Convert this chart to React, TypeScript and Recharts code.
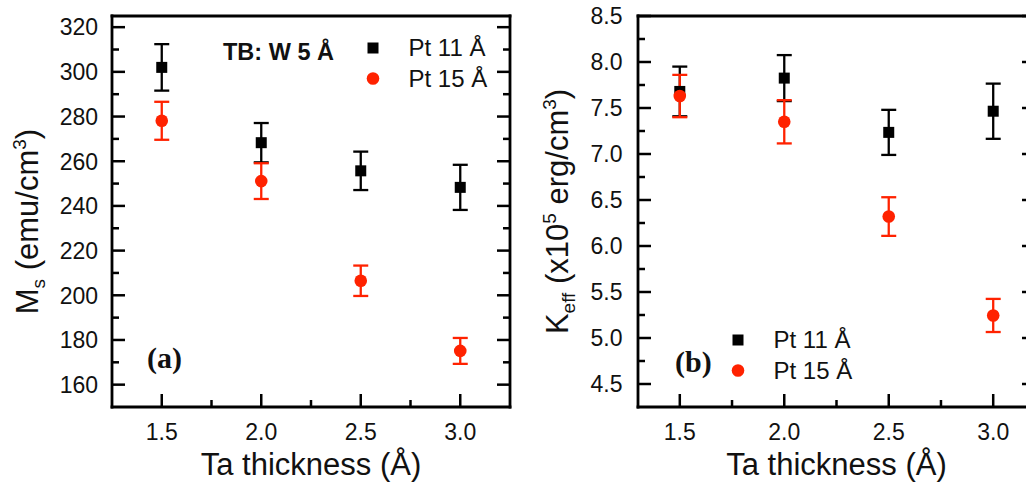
import React from 'react'
import { ScatterChart, Scatter, XAxis, YAxis, ErrorBar, Legend } from 'recharts'

// values
const taThickness = [1.5, 2.0, 2.5, 3.0]
const msPt11 = [302, 268.3, 255.7, 248.3]
const msPt11Err = [10.4, 8.8, 8.6, 10.1]
const msPt15 = [278.1, 251.1, 206.5, 175.1]
const msPt15Err = [8.5, 8, 6.8, 5.8]
const keffPt11 = [7.68, 7.825, 7.235, 7.465]
const keffPt11Err = [0.27, 0.25, 0.245, 0.3]
const keffPt15 = [7.63, 7.35, 6.32, 5.245]
const keffPt15Err = [0.23, 0.235, 0.21, 0.18]
const seriesNames = ['Pt 11 Å', 'Pt 15 Å']

const xMajorTicks = [1.5, 2.0, 2.5, 3.0]
const xMinorTicks = [1.75, 2.25, 2.75]
const msMajorTicks = [160, 180, 200, 220, 240, 260, 280, 300, 320]
const msMinorTicks = [170, 190, 210, 230, 250, 270, 290, 310]
const keffMajorTicks = [4.5, 5.0, 5.5, 6.0, 6.5, 7.0, 7.5, 8.0, 8.5]
const keffMinorTicks = [4.75, 5.25, 5.75, 6.25, 6.75, 7.25, 7.75, 8.25]

const BLACK = '#000'
const RED = '#ff2200'
const SANS = '"Liberation Sans", Arial, sans-serif'
const SERIF = '"Liberation Serif", "Times New Roman", serif'
const MAJOR_LEN = 13
const MINOR_LEN = 7

const toRows = (ys: number[], errs: number[]) =>
  taThickness.map((x, i) => ({ x, y: ys[i], err: errs[i] }))

type Side = 'bottom' | 'top' | 'left' | 'right'

function makeTick(side: Side, majors: number[], fmt: (v: number) => string, gap: number) {
  return function Tick(props: any) {
    const { x, y, payload } = props
    const v = Number(payload.value)
    const major = majors.some((m) => Math.abs(m - v) < 1e-6)
    const len = major ? MAJOR_LEN : MINOR_LEN
    let line = null
    if (side === 'bottom') line = <line x1={x} x2={x} y1={y} y2={y - len} />
    if (side === 'top') line = <line x1={x} x2={x} y1={y} y2={y + len} />
    if (side === 'left') line = <line x1={x} x2={x + len} y1={y} y2={y} />
    if (side === 'right') line = <line x1={x} x2={x - len} y1={y} y2={y} />
    let label = null
    if (major && side === 'bottom') {
      label = (
        <text x={x} y={y + gap} textAnchor="middle" fill="#111" stroke="none" fontSize={23} fontFamily={SANS}>
          {fmt(v)}
        </text>
      )
    }
    if (major && side === 'left') {
      label = (
        <text x={x - gap} y={y} dy="0.36em" textAnchor="end" fill="#111" stroke="none" fontSize={23} fontFamily={SANS}>
          {fmt(v)}
        </text>
      )
    }
    return (
      <g stroke={BLACK} strokeWidth={2.5}>
        {line}
        {label}
      </g>
    )
  }
}

const SquareDot = (p: any) => <rect x={p.cx - 5.5} y={p.cy - 5.5} width={11} height={11} fill={BLACK} />
const RoundDot = (p: any) => <circle cx={p.cx} cy={p.cy} r={6.3} fill={RED} />

function LegendBox(props: any) {
  const items = props.payload || []
  return (
    <svg width={150} height={64} style={{ display: 'block' }}>
      {items.map((item: any, i: number) => (
        <g key={item.value}>
          {i === 0 ? (
            <rect x={14 - 5.5} y={14 - 5.5} width={11} height={11} fill={BLACK} />
          ) : (
            <circle cx={14} cy={44.5} r={6.3} fill={RED} />
          )}
          <text x={49.5} y={i === 0 ? 22.3 : 52.5} fontSize={24} fontFamily={SANS} fill="#111">
            {item.value}
          </text>
        </g>
      ))}
    </svg>
  )
}

interface PanelProps {
  width: number
  marginRight: number
  yAxisWidth: number
  yLabelGap: number
  xDomain: [number, number]
  yDomain: [number, number]
  yMajor: number[]
  yMinor: number[]
  yFmt: (v: number) => string
  pt11: { x: number; y: number; err: number }[]
  pt15: { x: number; y: number; err: number }[]
  legendPos: { left: number; top: number }
  children?: React.ReactNode
}

function Panel(p: PanelProps) {
  const xTicks = [...xMajorTicks, ...xMinorTicks].sort((a, b) => a - b)
  const yTicks = [...p.yMajor, ...p.yMinor].sort((a, b) => a - b)
  const xFmt = (v: number) => v.toFixed(1)
  const axisLine = { stroke: BLACK, strokeWidth: 2.8, strokeLinecap: 'square' as const }
  return (
    <ScatterChart width={p.width} height={484} margin={{ top: 15, right: p.marginRight, bottom: 0, left: 0 }}>
      <XAxis
        type="number"
        dataKey="x"
        domain={p.xDomain}
        ticks={xTicks}
        interval={0}
        height={77}
        tickSize={0}
        tickMargin={0}
        tickLine={false}
        axisLine={axisLine}
        tick={makeTick('bottom', xMajorTicks, xFmt, 32.5)}
        allowDataOverflow
      />
      <XAxis
        xAxisId="top"
        orientation="top"
        type="number"
        domain={p.xDomain}
        ticks={xTicks}
        interval={0}
        height={1}
        tickSize={0}
        tickMargin={0}
        tickLine={false}
        axisLine={axisLine}
        tick={makeTick('top', xMajorTicks, xFmt, 0)}
        allowDataOverflow
      />
      <YAxis
        type="number"
        dataKey="y"
        domain={p.yDomain}
        ticks={yTicks}
        interval={0}
        width={p.yAxisWidth}
        tickSize={0}
        tickMargin={0}
        tickLine={false}
        axisLine={axisLine}
        tick={makeTick('left', p.yMajor, p.yFmt, p.yLabelGap)}
        allowDataOverflow
      />
      <YAxis
        yAxisId="right"
        orientation="right"
        type="number"
        domain={p.yDomain}
        ticks={yTicks}
        interval={0}
        width={1}
        tickSize={0}
        tickMargin={0}
        tickLine={false}
        axisLine={axisLine}
        tick={makeTick('right', p.yMajor, p.yFmt, 0)}
        allowDataOverflow
      />
      <Legend
        layout="vertical"
        align="center"
        verticalAlign="middle"
        content={<LegendBox />}
        wrapperStyle={{ left: p.legendPos.left, top: p.legendPos.top, width: 'auto' }}
      />
      <Scatter name={seriesNames[0]} data={p.pt11} fill={BLACK} shape={SquareDot} isAnimationActive={false}>
        <ErrorBar dataKey="err" direction="y" width={7.5} stroke={BLACK} strokeWidth={2.3} isAnimationActive={false} />
      </Scatter>
      <Scatter name={seriesNames[1]} data={p.pt15} fill={RED} shape={RoundDot} isAnimationActive={false}>
        <ErrorBar dataKey="err" direction="y" width={7.5} stroke={RED} strokeWidth={2.3} isAnimationActive={false} />
      </Scatter>
      {p.children}
    </ScatterChart>
  )
}

export default function App() {
  return (
    <div
      style={{
        position: 'absolute',
        left: 0,
        top: 0,
        width: 1026,
        height: 484,
        overflow: 'hidden',
        background: '#fff',
        fontFamily: SANS,
      }}
    >
      <div style={{ position: 'absolute', left: 0, top: 0 }}>
        <Panel
          width={520}
          marginRight={9}
          yAxisWidth={112}
          yLabelGap={14}
          xDomain={[1.25, 3.25]}
          yDomain={[150, 325]}
          yMajor={msMajorTicks}
          yMinor={msMinorTicks}
          yFmt={(v) => String(v)}
          pt11={toRows(msPt11, msPt11Err)}
          pt15={toRows(msPt15, msPt15Err)}
          legendPos={{ left: 358.7, top: 33.7 }}
        >
          <text x={311} y={475} textAnchor="middle" fontSize={31} fontFamily={SANS} fill="#111">
            Ta thickness (Å)
          </text>
          <text
            transform="translate(38 221.5) rotate(-90)"
            textAnchor="middle"
            fontSize={31}
            fontFamily={SANS}
            fill="#111"
          >
            <tspan>M</tspan>
            <tspan dy={7} fontSize={19}>s</tspan>
            <tspan dy={-7}> (emu/cm</tspan>
            <tspan dy={-12} fontSize={19}>3</tspan>
            <tspan dy={12}>)</tspan>
          </text>
          <text x={223} y={60} fontSize={23.5} fontWeight="bold" fontFamily={SANS} fill="#111">
            TB: W 5 Å
          </text>
          <text x={147} y={368} fontSize={30} fontWeight="bold" fontFamily={SERIF} fill="#111">
            (a)
          </text>
        </Panel>
      </div>
      <div style={{ position: 'absolute', left: 520, top: 0 }}>
        <Panel
          width={530}
          marginRight={14}
          yAxisWidth={118}
          yLabelGap={15.5}
          xDomain={[1.3, 3.2]}
          yDomain={[4.25, 8.5]}
          yMajor={keffMajorTicks}
          yMinor={keffMinorTicks}
          yFmt={(v) => v.toFixed(1)}
          pt11={toRows(keffPt11, keffPt11Err)}
          pt15={toRows(keffPt15, keffPt15Err)}
          legendPos={{ left: 203.7, top: 326 }}
        >
          <text x={316.5} y={475} textAnchor="middle" fontSize={31} fontFamily={SANS} fill="#111">
            Ta thickness (Å)
          </text>
          <text
            transform="translate(48 211.5) rotate(-90)"
            textAnchor="middle"
            fontSize={31}
            fontFamily={SANS}
            fill="#111"
          >
            <tspan>K</tspan>
            <tspan dy={7} fontSize={19}>eff</tspan>
            <tspan dy={-7}> (x10</tspan>
            <tspan dy={-12} fontSize={19}>5</tspan>
            <tspan dy={12}> erg/cm</tspan>
            <tspan dy={-12} fontSize={19}>3</tspan>
            <tspan dy={12}>)</tspan>
          </text>
          <text x={155} y={372} fontSize={30} fontWeight="bold" fontFamily={SERIF} fill="#111">
            (b)
          </text>
        </Panel>
      </div>
    </div>
  )
}
